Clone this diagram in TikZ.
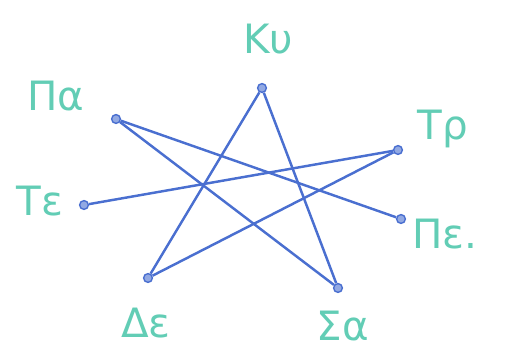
\documentclass[tikz,border=0pt]{standalone}
\usepackage{fontspec}
\setmainfont{DejaVu Sans}
\definecolor{pen}{HTML}{4A6FD0}
\definecolor{ink}{HTML}{62CDB5}
\begin{document}
\begin{tikzpicture}[
dot/.style={circle,draw=pen,fill=pen!60,line width=0.8pt,inner sep=0pt,minimum size=5pt},
day/.style={text=ink,font=\fontsize{23}{25}\selectfont},
edge/.style={pen,line width=1.4pt}
]
\useasboundingbox (0,0) rectangle (10.16,7.2);
\node[dot] (ky) at (5.24,5.44){};
\node[dot] (pa) at (2.32,4.82){};
\node[dot] (tr) at (7.96,4.20){};
\node[dot] (te) at (1.68,3.10){};
\node[dot] (pe) at (8.02,2.82){};
\node[dot] (de) at (2.96,1.64){};
\node[dot] (sa) at (6.76,1.44){};
\node[day] (kyl) at (5.36,6.42){Κυ};
\node[day] (pal) at (1.12,5.28){Πα};
\node[day] (trl) at (8.86,4.62){Τρ};
\node[day] (tel) at (0.8,3.18){Τε};
\node[day] (pel) at (8.9,2.52){Πε.};
\node[day] (del) at (2.92,0.74){Δε};
\node[day] (sal) at (6.86,0.68){Σα};
\draw[edge] (ky) -- (de);
\draw[edge] (ky) -- (sa);
\draw[edge] (pa) -- (pe);
\draw[edge] (pa) -- (sa);
\draw[edge] (te) -- (tr);
\draw[edge] (tr) -- (de);
\end{tikzpicture}
\end{document}
